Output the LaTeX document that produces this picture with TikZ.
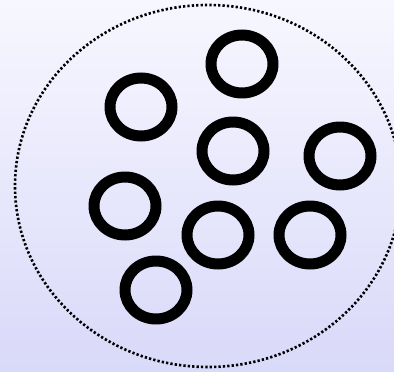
\documentclass[tikz,border=0pt]{standalone}
\usepackage{xcolor}
\usepackage{tikz}
\usetikzlibrary{shapes.geometric}
\definecolor{skytop}{HTML}{F7F7FF}
\definecolor{skybot}{HTML}{D9D9F9}
\definecolor{ink}{HTML}{000000}

\begin{document}
\begin{tikzpicture}[x=0.02cm,y=-0.02cm,
  ring/.style={ellipse,draw=ink,line width=0.22cm,minimum width=1.24cm,minimum height=1.16cm,inner sep=0pt},
  rim/.style={draw=ink,line width=1.5pt,dash pattern=on 1.3pt off 1.2pt},
]
  \useasboundingbox (0,0) rectangle (394,371);
  \clip (0,0) rectangle (394,371);
  \shade[top color=skytop,bottom color=skybot] (0,0) rectangle (394,371);
  \draw[rim] (208,186) ellipse [x radius=193,y radius=181];
  \node[ring] (r1) at (242,64) {};
  \node[ring] (r2) at (141,107) {};
  \node[ring] (r3) at (233,151) {};
  \node[ring] (r4) at (340,156) {};
  \node[ring] (r5) at (125,206) {};
  \node[ring] (r6) at (218,235) {};
  \node[ring] (r7) at (310,235) {};
  \node[ring] (r8) at (156,290) {};
\end{tikzpicture}
\end{document}
